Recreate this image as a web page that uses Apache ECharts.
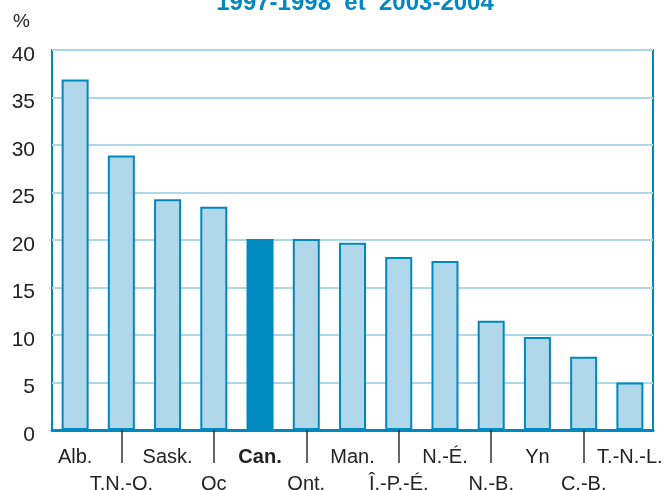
<!DOCTYPE html>
<html><head><meta charset="utf-8">
<script src="https://cdn.jsdelivr.net/npm/echarts@6/dist/echarts.min.js"></script>
<style>html,body{margin:0;padding:0;background:#fff}#c{width:667px;height:490px}</style>
</head><body><div id="c"></div>
<script>
var categories = ['Alb.','T.N.-O.','Sask.','Qc','Can.','Ont.','Man.','Î.-P.-É.','N.-É.','N.-B.','Yn','C.-B.','T.-N.-L.'];
var values = [36.9, 28.9, 24.3, 23.5, 20.1, 20.1, 19.7, 18.2, 17.8, 11.5, 9.8, 7.7, 5.0];
var highlight = 'Can.';
var titleText = '1997-1998  et  2003-2004';
var unitLabel = '%';

var FONT = '"Liberation Sans Narrow", "Liberation Sans", Arial, sans-serif';
var chart = echarts.init(document.getElementById('c'), null, {renderer:'canvas'});
chart.setOption({
  animation: false,
  backgroundColor: '#fff',
  title: {
    text: titleText, left: 350, textAlign:'center', top: -14,
    textStyle: {color:'#0088c0', fontWeight:'bold', fontSize:24, fontFamily: FONT}
  },
  graphic: [{type:'text', left:13, top:12, style:{text:unitLabel, fill:'#222', font:'19px '+FONT}}],
  grid: {left:52, right:14, top:50, bottom:60, show:true, borderColor:'#0088c0', borderWidth:2, outerBoundsMode:'none', containLabel:false},
  xAxis: {
    type:'category', data:categories,
    axisLine:{lineStyle:{color:'#0088c0', width:3}},
    axisTick:{show:true, alignWithLabel:true, length:33, interval:function(i){return i%2===1;}, lineStyle:{color:'#333', width:1.5}},
    axisLabel:{
      interval:0, margin:14, color:'#222', fontSize:20, fontFamily:FONT, lineHeight:27,
      formatter:function(v,i){
        var t = v===highlight ? '{b|'+v+'}' : v;
        return i%2===1 ? '\n'+t : t;
      },
      rich:{b:{fontWeight:'bold', fontSize:20, fontFamily:FONT, color:'#222', lineHeight:27}}
    }
  },
  yAxis: {
    type:'value', min:0, max:40, interval:5,
    axisLine:{show:false}, axisTick:{show:false},
    splitLine:{lineStyle:{color:'#add8e6', width:2}},
    axisLabel:{color:'#222', fontSize:21, fontFamily:FONT, margin:17, verticalAlign:'top', lineHeight:10}
  },
  series: [{
    type:'bar', barWidth:27,
    data: values.map(function(v,i){
      var hl = categories[i]===highlight;
      return {value:v, itemStyle:{color: hl ? '#0088c0' : '#b0d8ea', borderColor:'#0088c0', borderWidth:2}};
    })
  }]
});
</script></body></html>
